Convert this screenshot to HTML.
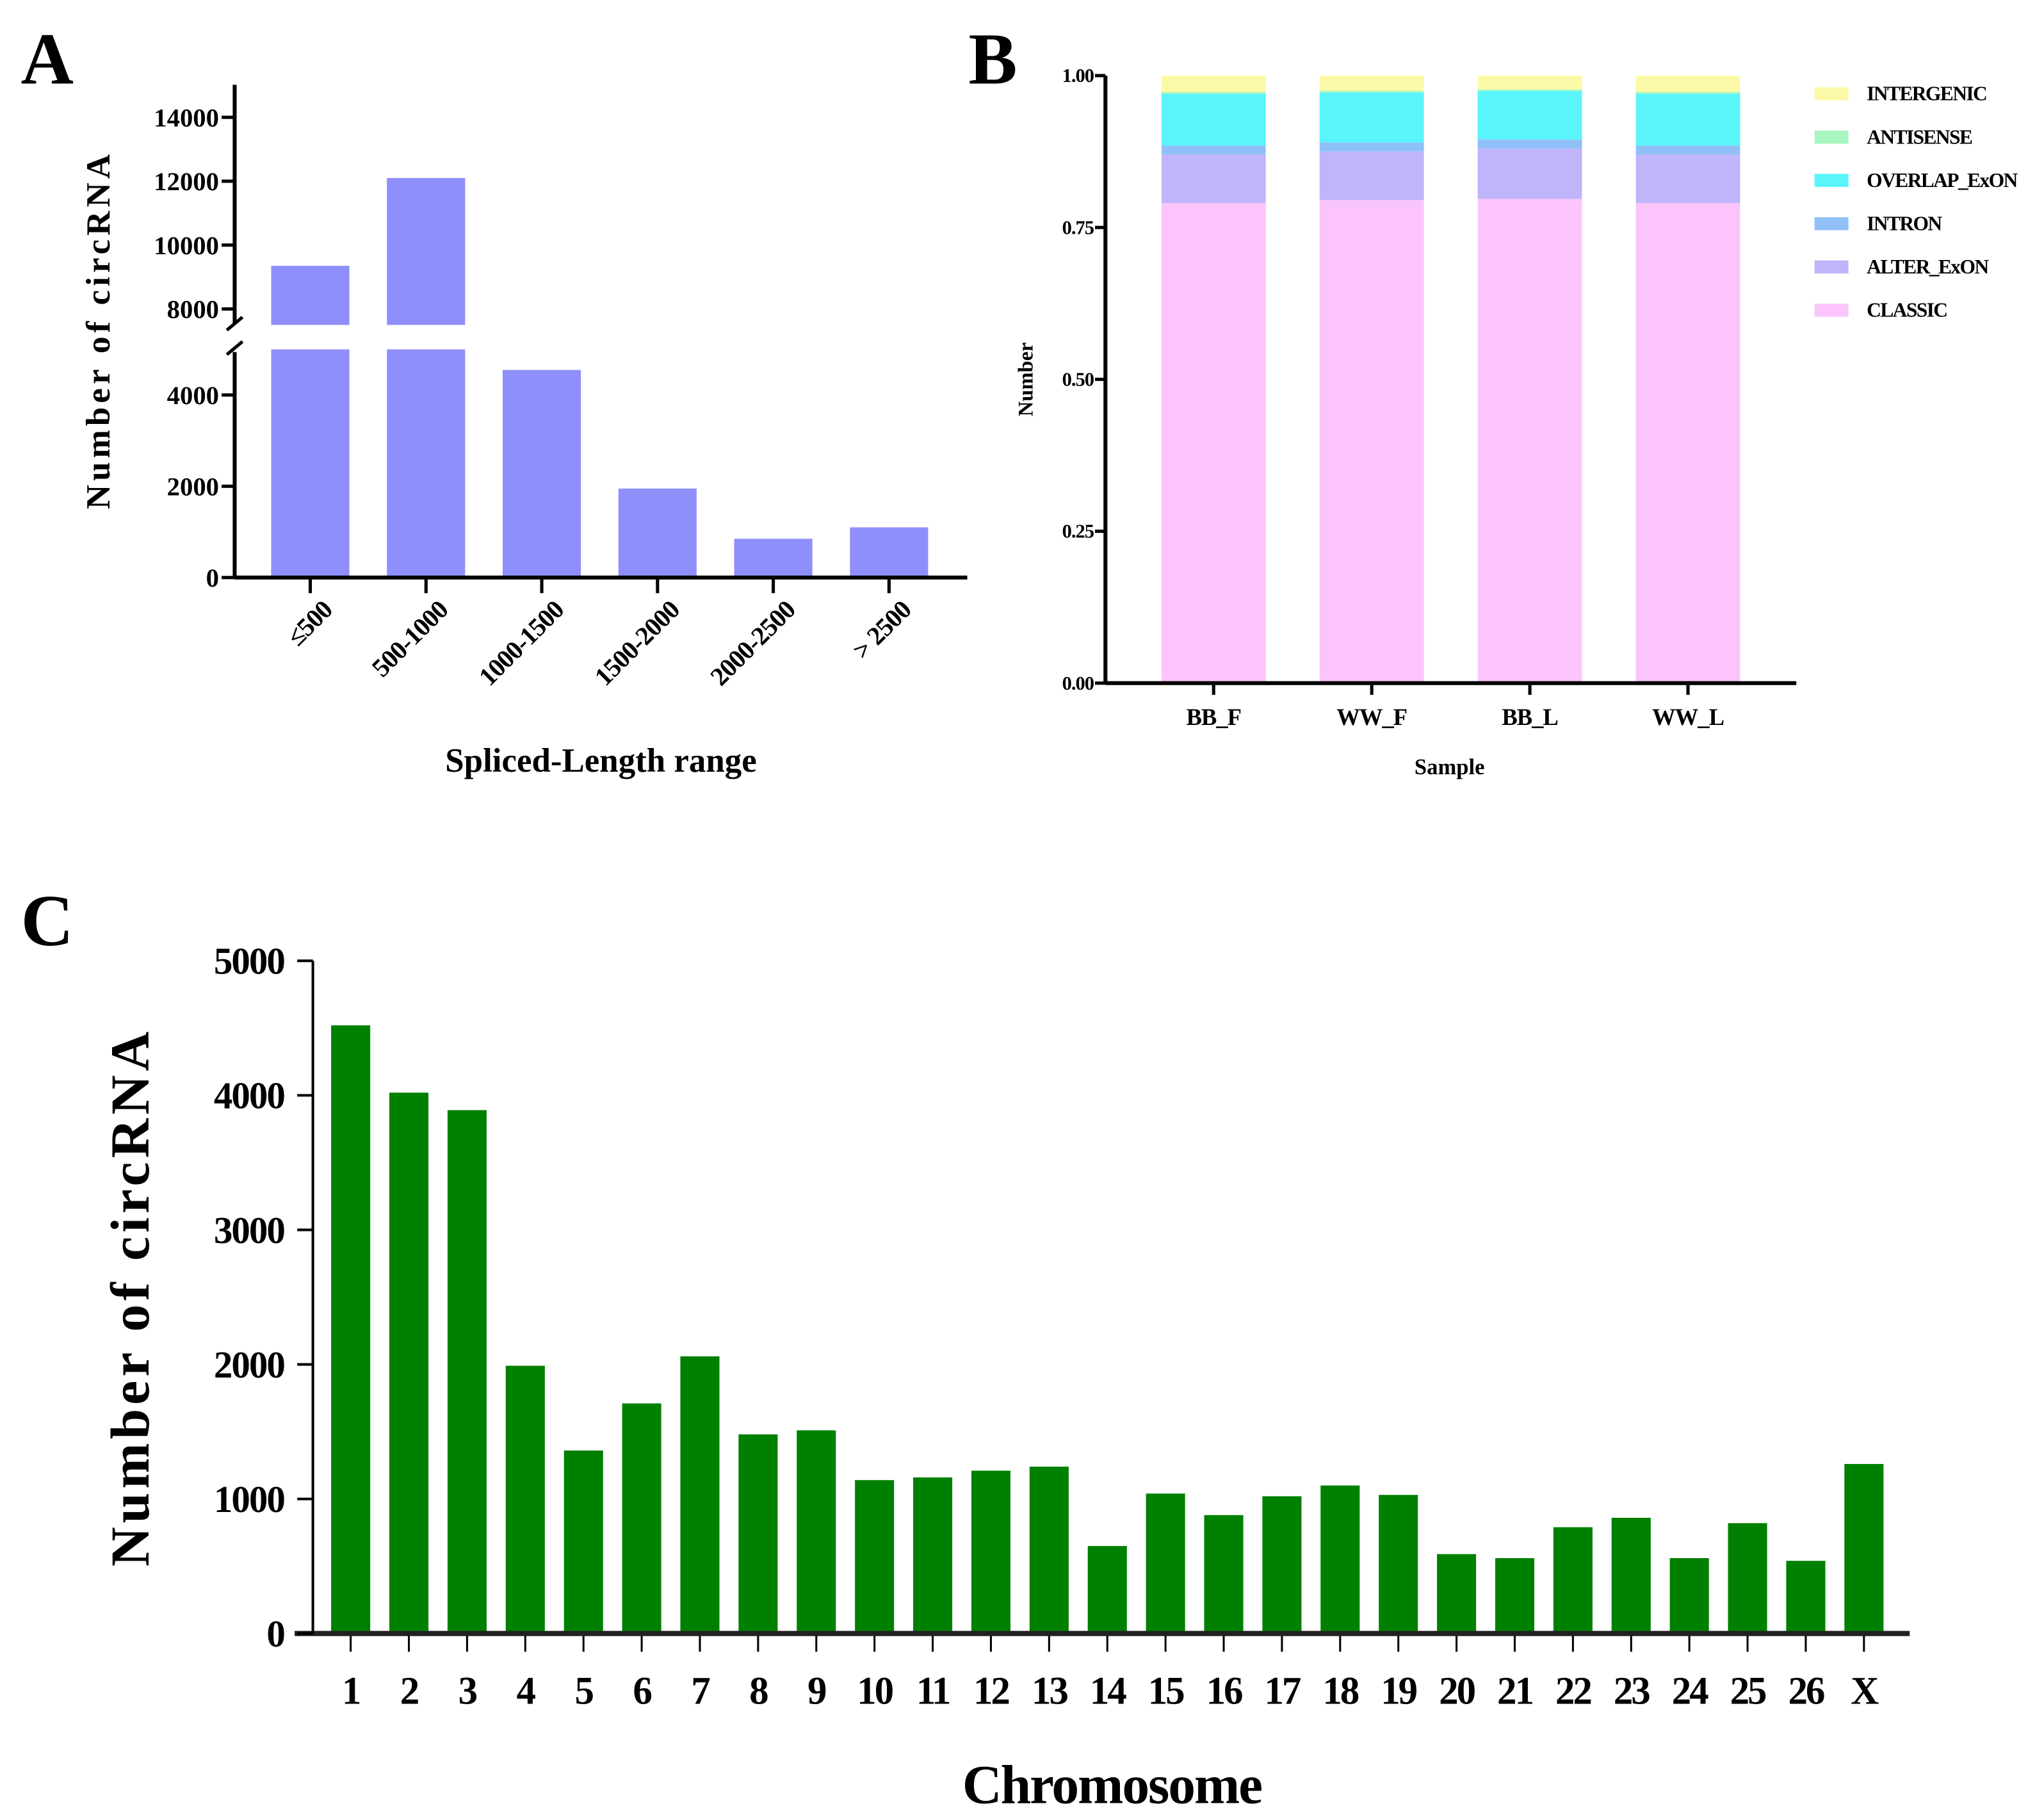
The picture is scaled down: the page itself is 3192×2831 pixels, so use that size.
<!DOCTYPE html>
<html><head><meta charset="utf-8"><style>
html,body{margin:0;padding:0;background:#fff;}
svg{display:block;font-family:"Liberation Serif",serif;font-weight:bold;}
</style></head><body>
<svg id="fig" width="3192" height="2831" viewBox="0 0 1568 1390.7" xmlns="http://www.w3.org/2000/svg">
<rect width="1568" height="1390.7" fill="#fff"/>
<text x="16" y="64" font-size="56">A</text>
<text x="743" y="64" font-size="56">B</text>
<text x="16" y="725" font-size="56">C</text>
<g id="A"></g>
<g id="B"></g>
<g id="C"></g>
</svg>
<script>
// Panel A data
const aCategories = ["≤500","500-1000","1000-1500","1500-2000","2000-2500","> 2500"];
const aValues = [9350, 12100, 4550, 1950, 850, 1100];
const aLowerTicks = [0, 2000, 4000];
const aUpperTicks = [8000, 10000, 12000, 14000];
// Panel B data
const bSamples = ["BB_F","WW_F","BB_L","WW_L"];
const bClassic = [0.79, 0.795, 0.797, 0.79];
const bAlter = [0.08, 0.08, 0.083, 0.08];
const bIntron = [0.015, 0.015, 0.015, 0.015];
const bOverlap = [0.085, 0.082, 0.08, 0.085];
const bAntisense = [0.003, 0.003, 0.002, 0.003];
const bIntergenic = [0.027, 0.025, 0.023, 0.027];
const bTicks = ["0.00","0.25","0.50","0.75","1.00"];
// Panel C data
const cChrom = ["1","2","3","4","5","6","7","8","9","10","11","12","13","14","15","16","17","18","19","20","21","22","23","24","25","26","X"];
const cValues = [4520,4020,3890,1990,1360,1710,2060,1480,1510,1140,1160,1210,1240,650,1040,880,1020,1100,1030,590,560,790,860,560,820,540,1260];
const cTicks = [0,1000,2000,3000,4000,5000];

const NS="http://www.w3.org/2000/svg";
function mk(parent,tag,attrs,text){const e=document.createElementNS(NS,tag);for(const k in attrs)e.setAttribute(k,attrs[k]);if(text!==undefined)e.textContent=text;parent.appendChild(e);return e;}

// ---- Panel A ----
(function(){
const g=document.getElementById('A');
const x0=180, yBase=443;
const yLow=v=>yBase-v*0.035;
const yUp=v=>237-(v-8000)*0.0245;
const xA=i=>238+i*88.8;
aCategories.forEach((c,i)=>{
 const v=aValues[i], cx=xA(i), w=60;
 if(v>5000){
  let r=mk(g,'rect',{x:cx-w/2,y:yLow(5000),width:w,height:yBase-yLow(5000),fill:'#8f8ffb'});
  
  
  let r2=mk(g,'rect',{x:cx-w/2,y:yUp(v),width:w,height:yUp(7500)-yUp(v),fill:'#8f8ffb'});
  
  
 } else {
  let r=mk(g,'rect',{x:cx-w/2,y:yLow(v),width:w,height:yBase-yLow(v),fill:'#8f8ffb'});
  
  
 }
 mk(g,'line',{x1:cx,y1:yBase,x2:cx,y2:yBase+12,stroke:'#000','stroke-width':2.5});
 let t=mk(g,'text',{x:cx+18,y:yBase+26,'font-size':20,'text-anchor':'end','letter-spacing':-0.5,transform:`rotate(-45 ${cx+18} ${yBase+26})`},c);
 
 
});
mk(g,'line',{x1:x0,y1:yBase,x2:742,y2:yBase,stroke:'#000','stroke-width':3});
mk(g,'line',{x1:x0,y1:yBase,x2:x0,y2:yLow(5000)+2,stroke:'#000','stroke-width':3});
mk(g,'line',{x1:x0,y1:yUp(7500)-1,x2:x0,y2:65,stroke:'#000','stroke-width':3});
mk(g,'line',{x1:x0-6,y1:yUp(7500)+4,x2:x0+6,y2:yUp(7500)-6,stroke:'#000','stroke-width':2.5});
mk(g,'line',{x1:x0-6,y1:yLow(5000)+4,x2:x0+6,y2:yLow(5000)-6,stroke:'#000','stroke-width':2.5});
aLowerTicks.forEach(v=>{const y=yLow(v);mk(g,'line',{x1:x0-10,y1:y,x2:x0,y2:y,stroke:'#000','stroke-width':2.5});
 let t=mk(g,'text',{x:x0-12,y:y+7,'font-size':20,'text-anchor':'end'},v);});
aUpperTicks.forEach(v=>{const y=yUp(v);mk(g,'line',{x1:x0-10,y1:y,x2:x0,y2:y,stroke:'#000','stroke-width':2.5});
 let t=mk(g,'text',{x:x0-12,y:y+7,'font-size':20,'text-anchor':'end'},v);});
let yt=mk(g,'text',{x:84,y:253,'font-size':26,'text-anchor':'middle','letter-spacing':3,transform:'rotate(-90 84 253)'},'Number of circRNA');

let xt=mk(g,'text',{x:461,y:592,'font-size':26,'text-anchor':'middle'},'Spliced-Length range');

})();

// ---- Panel B ----
(function(){
const g=document.getElementById('B');
const x0=848, y0=524, y1=58;
const yB=v=>y0-v*(y0-y1);
const xB=i=>931+i*121.3;
const series=[[bClassic,'#fbc5fb','CLASSIC'],[bAlter,'#c0b5fb','ALTER_ExON'],[bIntron,'#90c0f8','INTRON'],[bOverlap,'#5af5fb','OVERLAP_ExON'],[bAntisense,'#a8f5c0','ANTISENSE'],[bIntergenic,'#fbf9a8','INTERGENIC']];
bSamples.forEach((s,i)=>{
 let acc=0;
 series.forEach(([arr,col,name])=>{
  const v=arr[i];
  let r=mk(g,'rect',{x:xB(i)-40,y:yB(acc+v),width:80,height:yB(acc)-yB(acc+v),fill:col});
  
  
  acc+=v;
 });
 mk(g,'line',{x1:xB(i),y1:y0,x2:xB(i),y2:y0+9,stroke:'#000','stroke-width':2.5});
 let t=mk(g,'text',{x:xB(i),y:y0+32,'font-size':18,'text-anchor':'middle','letter-spacing':-0.5},s);
 
});
mk(g,'line',{x1:x0,y1:y0,x2:1378,y2:y0,stroke:'#000','stroke-width':3});
mk(g,'line',{x1:x0,y1:y0+1,x2:x0,y2:y1,stroke:'#000','stroke-width':3});
bTicks.forEach((lab,i)=>{const y=yB(i*0.25);mk(g,'line',{x1:x0-8,y1:y,x2:x0,y2:y,stroke:'#000','stroke-width':2.5});
 let t=mk(g,'text',{x:x0-9,y:y+5,'font-size':15,'text-anchor':'end','letter-spacing':-0.5},lab);});
let yt=mk(g,'text',{x:792,y:291,'font-size':16,'text-anchor':'middle',transform:'rotate(-90 792 291)'},'Number');

let xt=mk(g,'text',{x:1112,y:594,'font-size':17,'text-anchor':'middle'},'Sample');

series.slice().reverse().forEach(([arr,col,name],k)=>{
 const y=72+k*33.2;
 let r=mk(g,'rect',{x:1392,y:y-5,width:26,height:10,fill:col});
 
 let t=mk(g,'text',{x:1432,y:y+5,'font-size':15.5,'letter-spacing':-0.8},name);
 
});
})();

// ---- Panel C ----
(function(){
const g=document.getElementById('C');
const x0=240, y0=1253, yTop=737;
const yC=v=>y0-v*(y0-yTop)/5000;
const xC=i=>269+i*44.65;
cChrom.forEach((c,i)=>{
 let r=mk(g,'rect',{x:xC(i)-15,y:yC(cValues[i]),width:30,height:y0-yC(cValues[i]),fill:'#008000'});
 
 mk(g,'line',{x1:xC(i),y1:y0,x2:xC(i),y2:y0+14,stroke:'#000','stroke-width':1.5});
 let t=mk(g,'text',{x:xC(i),y:1307,'font-size':30,'text-anchor':'middle','letter-spacing':-1.5},c);
 
});
mk(g,'line',{x1:226,y1:y0,x2:1465,y2:y0,stroke:'#222','stroke-width':4});
mk(g,'line',{x1:x0,y1:y0,x2:x0,y2:yTop,stroke:'#000','stroke-width':2});
cTicks.forEach(v=>{const y=yC(v);mk(g,'line',{x1:x0-12,y1:y,x2:x0,y2:y,stroke:'#000','stroke-width':2});
 let t=mk(g,'text',{x:x0-22,y:y+10,'font-size':29,'text-anchor':'end','letter-spacing':-1},v);});
let yt=mk(g,'text',{x:114,y:995,'font-size':42,'text-anchor':'middle','letter-spacing':3,transform:'rotate(-90 114 995)'},'Number of circRNA');

let xt=mk(g,'text',{x:853,y:1383,'font-size':42,'text-anchor':'middle','letter-spacing':-1},'Chromosome');

})();
</script>
</body></html>
